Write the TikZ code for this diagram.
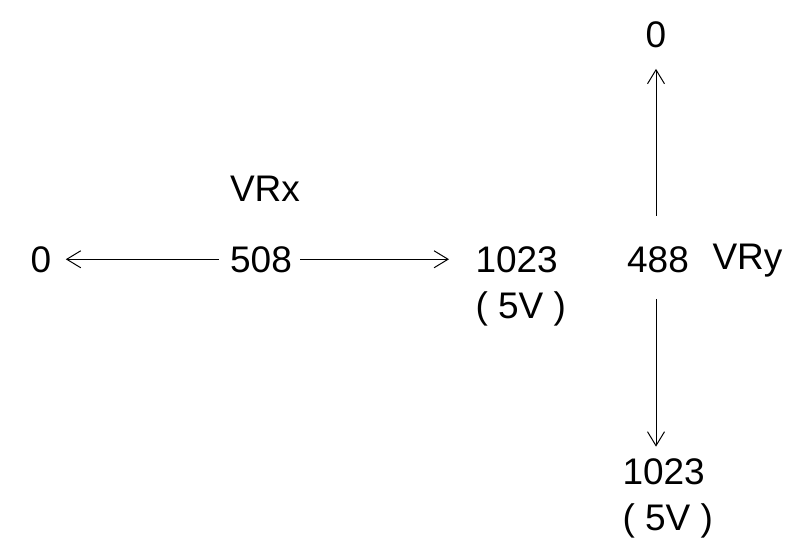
\documentclass[tikz,border=0pt]{standalone}
\usepackage{fontspec}
\setmainfont{Liberation Sans}
\usetikzlibrary{arrows.meta}
\begin{document}
\begin{tikzpicture}[x=1pt,y=-1pt,auto,->,>={Straight Barb[length=14pt,width=17pt]},line width=1pt]
	\tikzstyle{val}=[inner sep=0pt,font=\fontsize{37}{44}\selectfont]
	\tikzstyle{lbl}=[val]
	\useasboundingbox (0,0) rectangle (806,557);
	% x axis
	\node[val,anchor=base] (x-zero) at (41,272) {0};
	\node[val,anchor=base] (x-mid) at (261,272) {508};
	\node[val,anchor=base west] (x-max) at (475,272) {1023};
	\node[val,anchor=base west] (x-volt) at (475,318) {( 5V )};
	\node[lbl,anchor=base] (x-name) at (265,201) {VRx};
	\draw[shorten <=11pt,shorten >=14pt] (x-mid) -- (x-zero);
	\draw[shorten <=8pt,shorten >=26pt] (x-mid.east) -- (x-max.west);
	% y axis
	\node[val,anchor=base] (y-mid) at (658,272) {488};
	\node[val,anchor=base] (y-zero) at (656,47) {0};
	\node[val,anchor=base west] (y-max) at (622,484) {1023};
	\node[val,anchor=base west] (y-volt) at (622,530) {( 5V )};
	\node[lbl,anchor=base west] (y-name) at (712,269) {VRy};
	\draw[shorten <=30pt,shorten >=21pt] (y-zero |- y-mid.north) -- (y-zero.south);
	\draw[shorten <=26pt,shorten >=11pt] (y-zero |- y-mid.south) -- (y-zero |- y-max.north);
\end{tikzpicture}
\end{document}
